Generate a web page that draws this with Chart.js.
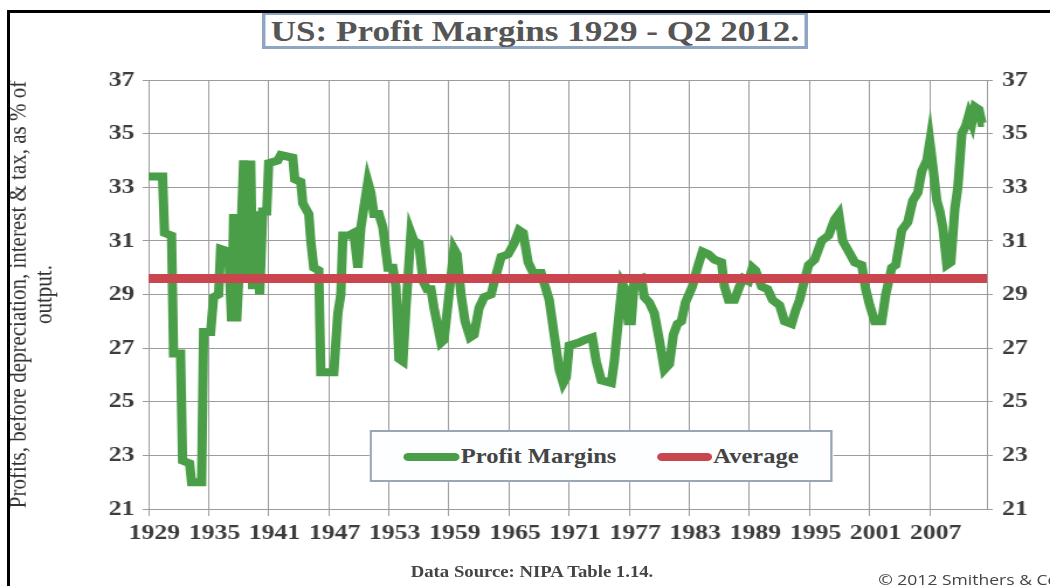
<!DOCTYPE html>
<html>
<head>
<meta charset="utf-8">
<script src="https://cdn.jsdelivr.net/npm/chart.js@4.4.1/dist/chart.umd.min.js"></script>
<style>
  html, body { margin: 0; padding: 0; background: #fff; overflow: hidden; width: 1050px; height: 586px; }
  #frame { position: absolute; left: 7px; top: 10px; width: 1043px; height: 576px;
    border-top: 3px solid #000; border-left: 3px solid #000; box-sizing: border-box; z-index: 5; }
  /* the original picture is stretched sideways, so everything is drawn narrow and scaled */
  #wrap { position: absolute; left: 0; top: 0; width: 898px; height: 586px;
    transform: scaleX(1.1693); transform-origin: 0 0; }
  #title { position: absolute; left: 224px; top: 12px; width: 467px; height: 37px; box-sizing: border-box;
    border: 3px solid #8ea6c4; background: #fff; text-align: center;
    font: bold 30px "Liberation Serif", serif; color: #555; line-height: 31px; white-space: nowrap; }
  #legend { position: absolute; left: 316px; top: 430px; width: 396px; height: 52px; box-sizing: border-box;
    border: 2px solid #9aa6b6; background: #fcfeff; }
  .swatch { position: absolute; top: 21px; height: 8px; border-radius: 4px; }
  .ltext { position: absolute; top: 12px; font: bold 21px "Liberation Serif", serif; color: #444; white-space: nowrap; }
  #source { position: absolute; left: 300px; width: 310px; top: 563px; text-align: center;
    font: bold 16px "Liberation Serif", serif; color: #444; white-space: nowrap; }
  #copy { position: absolute; left: 751px; top: 569px; font: 15px "Open Sans", sans-serif; color: #444; white-space: nowrap; }
</style>
</head>
<body>
<div id="frame"></div>
<div id="wrap">
  <canvas id="marginChart" width="898" height="586"></canvas>
  <div id="title">US: Profit Margins 1929 - Q2 2012.</div>
  <div id="legend">
    <span class="swatch" style="left:27px;width:48px;background:#4a9e47"></span>
    <span class="ltext" style="left:76px">Profit Margins</span>
    <span class="swatch" style="left:244px;width:47px;background:#c9464f"></span>
    <span class="ltext" style="left:292px">Average</span>
  </div>
  <div id="source">Data Source: NIPA Table 1.14.</div>
  <div id="copy">© 2012 Smithers &amp; Co</div>
</div>
<script>
// readings (year, profit margin %)
var pmYears = [
  1929.0, 1930.4, 1930.6, 1931.3, 1931.5, 1932.2, 1932.4, 1933.1, 1933.3, 1934.3,
  1934.5, 1935.2, 1935.5, 1936.0, 1936.2, 1937.0, 1937.3, 1937.5, 1937.8, 1938.2,
  1938.5, 1938.8, 1939.2, 1939.4, 1939.8, 1940.1, 1940.4, 1940.8, 1941.0, 1941.9,
  1942.2, 1943.4, 1943.6, 1944.2, 1944.4, 1945.0, 1945.2, 1945.5, 1946.0, 1946.2,
  1947.5, 1947.9, 1948.2, 1948.4, 1949.0, 1949.5, 1949.9, 1950.2, 1950.9, 1951.2,
  1951.5, 1952.0, 1952.4, 1952.9, 1953.4, 1953.7, 1954.0, 1954.4, 1954.7, 1955.2,
  1955.5, 1956.0, 1956.4, 1956.8, 1957.2, 1957.5, 1958.2, 1958.5, 1959.0, 1959.5,
  1959.8, 1960.2, 1960.6, 1961.1, 1961.5, 1962.0, 1962.5, 1963.2, 1963.6, 1964.2,
  1964.9, 1965.5, 1966.0, 1966.4, 1966.9, 1967.4, 1968.2, 1968.6, 1969.0, 1969.5,
  1970.0, 1970.4, 1970.7, 1971.0, 1971.9, 1972.5, 1973.3, 1973.7, 1974.2, 1975.2,
  1975.5, 1975.9, 1976.3, 1976.6, 1976.9, 1977.2, 1977.5, 1978.2, 1978.5, 1979.0,
  1979.5, 1980.0, 1980.5, 1981.0, 1981.4, 1981.8, 1982.2, 1982.6, 1983.3, 1983.8,
  1984.3, 1984.9, 1985.5, 1986.2, 1986.5, 1986.9, 1987.5, 1988.0, 1988.4, 1988.9,
  1989.3, 1989.6, 1990.2, 1990.8, 1991.3, 1992.0, 1992.5, 1993.2, 1993.6, 1994.0,
  1994.4, 1994.9, 1995.5, 1996.2, 1996.9, 1997.5, 1997.9, 1998.3, 1998.9, 1999.5,
  2000.2, 2000.6, 2001.0, 2001.5, 2002.2, 2002.6, 2003.2, 2003.6, 2004.2, 2004.8,
  2005.3, 2005.8, 2006.2, 2006.7, 2007.0, 2007.3, 2007.7, 2008.0, 2008.3, 2008.7,
  2009.1, 2009.5, 2009.8, 2010.2, 2010.6, 2010.9, 2011.2, 2011.5, 2011.9, 2012.2,
  2012.4
];
var profitMargins = [
  33.4, 33.4, 31.3, 31.2, 26.8, 26.8, 22.8, 22.7, 22.0, 22.0,
  27.6, 27.6, 28.9, 29.0, 30.7, 30.6, 28.0, 32.0, 28.0, 31.0,
  34.0, 29.5, 34.0, 29.2, 32.1, 29.0, 32.1, 32.1, 33.9, 34.0,
  34.2, 34.1, 33.3, 33.2, 32.4, 32.0, 31.0, 30.0, 29.9, 26.1,
  26.1, 28.3, 29.0, 31.2, 31.2, 31.3, 30.0, 31.5, 33.2, 32.8,
  32.0, 32.0, 31.5, 30.0, 30.0, 29.3, 26.6, 26.5, 28.5, 31.3,
  31.0, 30.9, 29.5, 29.2, 29.2, 28.5, 27.2, 27.3, 29.0, 30.7,
  30.5, 29.0, 28.0, 27.4, 27.5, 28.5, 28.9, 29.0, 29.6, 30.4,
  30.5, 30.9, 31.4, 31.3, 30.2, 29.8, 29.8, 29.3, 28.8, 27.5,
  26.2, 25.7, 25.9, 27.1, 27.2, 27.3, 27.4, 26.5, 25.8, 25.7,
  26.5, 28.0, 29.4, 29.2, 28.0, 28.0, 29.5, 29.6, 28.9, 28.7,
  28.3, 27.3, 26.2, 26.4, 27.5, 27.9, 28.0, 28.7, 29.3, 30.0,
  30.6, 30.5, 30.3, 30.2, 29.3, 28.8, 28.8, 29.3, 29.6, 29.5,
  30.0, 29.9, 29.3, 29.2, 28.8, 28.6, 28.0, 27.9, 28.4, 28.8,
  29.4, 30.1, 30.3, 31.0, 31.2, 31.8, 32.0, 31.0, 30.6, 30.2,
  30.1, 29.2, 28.6, 28.0, 28.0, 29.0, 30.0, 30.1, 31.4, 31.7,
  32.5, 32.8, 33.6, 34.0, 34.7, 33.8, 32.5, 32.1, 31.5, 30.1,
  30.2, 32.2, 33.0, 35.0, 35.3, 35.7, 35.4, 36.0, 35.9, 35.4,
  35.4
];
var averageMargin = 29.6;
var xTickYears = [1929, 1935, 1941, 1947, 1953, 1959, 1965, 1971, 1977, 1983, 1989, 1995, 2001, 2007];
var yTickValues = [21, 23, 25, 27, 29, 31, 33, 35, 37];
var xStart = 1929, xEnd = 2012.7;

var gridGray = "#9c9c9c";
var tickFont = { family: "Liberation Serif", size: 22, weight: "bold" };

var pmPoints = pmYears.map(function (yr, i) { return { x: yr, y: profitMargins[i] }; });
var avgPoints = [{ x: xStart, y: averageMargin }, { x: xEnd, y: averageMargin }];

new Chart(document.getElementById("marginChart"), {
  type: "line",
  data: {
    datasets: [
      {
        label: "Profit Margins",
        data: pmPoints,
        borderColor: "#4a9e47",
        borderWidth: 8,
        pointRadius: 0,
        tension: 0,
        borderJoinStyle: "miter",
        order: 2,
      },
      {
        label: "Average",
        data: avgPoints,
        borderColor: "#c9464f",
        borderWidth: 9,
        pointRadius: 0,
        order: 1,
      },
    ],
  },
  options: {
    responsive: false,
    animation: false,
    devicePixelRatio: 1,
    layout: { padding: { left: 6, right: 0, top: 80, bottom: 0 } },
    plugins: {
      legend: { display: false },
      tooltip: { enabled: false },
    },
    scales: {
      x: {
        type: "linear",
        min: xStart,
        max: xEnd,
        afterBuildTicks: function (scale) {
          scale.ticks = xTickYears.map(function (v) { return { value: v }; });
        },
        afterFit: function (scale) { scale.height = 77; },
        grid: { color: gridGray, tickLength: 7 },
        border: { color: gridGray },
        ticks: {
          autoSkip: false,
          maxRotation: 0,
          padding: 4,
          labelOffset: 5,
          color: "#3d3d3d",
          font: tickFont,
          callback: function (v) { return String(v); },
        },
      },
      y: {
        position: "left",
        min: 21,
        max: 37,
        afterBuildTicks: function (scale) {
          scale.ticks = yTickValues.map(function (v) { return { value: v }; });
        },
        afterFit: function (scale) { scale.width = 121; },
        grid: { color: gridGray, tickLength: 5 },
        border: { color: gridGray },
        ticks: { padding: 7, color: "#3d3d3d", font: tickFont },
        title: {
          display: true,
          text: ["Profits, before depreciation, interest & tax, as % of", "output."],
          color: "#333",
          padding: { top: -1 },
          font: { family: "Liberation Serif", size: 21, lineHeight: 1.05 },
        },
      },
      y2: {
        position: "right",
        min: 21,
        max: 37,
        afterBuildTicks: function (scale) {
          scale.ticks = yTickValues.map(function (v) { return { value: v }; });
        },
        afterFit: function (scale) { scale.width = 54; },
        grid: { drawOnChartArea: false, color: gridGray, tickLength: 5 },
        border: { color: gridGray },
        ticks: { padding: 8, color: "#3d3d3d", font: tickFont },
      },
    },
  },
});
</script>
</body>
</html>
